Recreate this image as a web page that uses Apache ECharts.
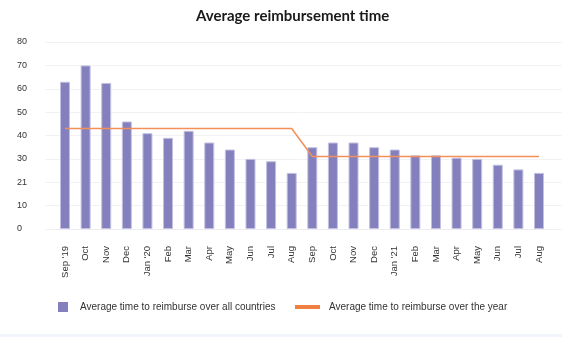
<!DOCTYPE html>
<html>
<head>
<meta charset="utf-8">
<script src="https://cdn.jsdelivr.net/npm/echarts@6/dist/echarts.min.js"></script>
<style>
  html, body { margin: 0; padding: 0; background: #ffffff; }
  #chart { width: 562px; height: 337px; }
</style>
</head>
<body>
<div id="chart"></div>
<script>
// Months from Sep 2019 to Aug 2021
const months = ["Sep '19", 'Oct', 'Nov', 'Dec', "Jan '20", 'Feb', 'Mar', 'Apr', 'May', 'Jun', 'Jul', 'Aug',
                'Sep', 'Oct', 'Nov', 'Dec', "Jan '21", 'Feb', 'Mar', 'Apr', 'May', 'Jun', 'Jul', 'Aug'];

// Average time (days) to reimburse over all countries, per month
const monthlyTime = [63, 70, 62.5, 46, 41, 39, 42, 37, 34, 30, 29, 24,
                     35, 37, 37, 35, 34, 31.5, 31.5, 30.5, 30, 27.5, 25.5, 24];

// Yearly average, repeated for each month of that year
const yearlyTime = [43, 43, 43, 43, 43, 43, 43, 43, 43, 43, 43, 43,
                    31, 31, 31, 31, 31, 31, 31, 31, 31, 31, 31, 31];

// Value axis tick labels, as printed
const yTickLabels = ['0', '10', '21', '30', '40', '50', '60', '70', '80'];

const barName = 'Average time to reimburse over all countries';
const lineName = 'Average time to reimburse over the year';

const chart = echarts.init(document.getElementById('chart'), null, { renderer: 'canvas' });

chart.setOption({
  animation: false,
  backgroundColor: '#ffffff',
  title: {
    text: 'Average reimbursement time',
    left: 191,
    top: 4,
    textStyle: { fontFamily: 'Lato', fontWeight: 'bold', fontSize: 15, color: '#1a1a1a' }
  },
  legend: [
    {
      data: [{ name: barName, icon: 'rect', itemStyle: { borderWidth: 0 } }],
      left: 53, top: 297,
      itemWidth: 10, itemHeight: 10,
      textStyle: { fontFamily: 'Liberation Sans', fontSize: 10, color: '#333', padding: [0, 0, 0, 7] }
    },
    {
      data: [{ name: lineName, icon: 'rect' }],
      left: 290, top: 297,
      itemWidth: 25, itemHeight: 4,
      textStyle: { fontFamily: 'Liberation Sans', fontSize: 10, color: '#333', padding: [0, 0, 0, 4] }
    }
  ],
  grid: [
    // full-width grid carrying the value gridlines
    { left: 45, right: 0, top: 42, bottom: 108, containLabel: false },
    // inner grid holding the bars and the yearly line
    { left: 54.7, right: 12.7, top: 42, bottom: 108, containLabel: false }
  ],
  xAxis: [
    { type: 'category', gridIndex: 0, data: months, show: false },
    {
      type: 'category', gridIndex: 1, data: months,
      axisLine: { lineStyle: { color: '#ececf2', width: 1 } },
      axisTick: { show: false },
      axisLabel: {
        rotate: 90, interval: 0, margin: 17,
        fontFamily: 'Liberation Sans', fontSize: 9.5, color: '#333'
      }
    }
  ],
  yAxis: [
    {
      type: 'value', gridIndex: 0, min: 0, max: 80, interval: 10,
      axisLine: { show: false }, axisTick: { show: false },
      splitLine: { lineStyle: { color: '#f2f2f4', width: 1 } },
      axisLabel: {
        align: 'left', margin: 28, padding: [0, 0, 7, 0],
        fontFamily: 'Liberation Sans', fontSize: 9, color: '#333',
        formatter: function (v) { return yTickLabels[Math.round(v / 10)]; }
      }
    },
    { type: 'value', gridIndex: 1, min: 0, max: 80, interval: 10, show: false }
  ],
  series: [
    {
      name: barName, type: 'bar', xAxisIndex: 1, yAxisIndex: 1,
      data: monthlyTime, barWidth: 10,
      itemStyle: { color: '#8480bd', borderColor: '#c3c0e2', borderWidth: 1 }
    },
    {
      name: lineName, type: 'line', xAxisIndex: 1, yAxisIndex: 1,
      data: yearlyTime, symbol: 'none', z: 3,
      itemStyle: { color: '#ef8040' },
      lineStyle: { color: '#f2905a', width: 1.5 }
    }
  ],
  graphic: [
    {
      type: 'rect', left: 0, top: 334,
      shape: { width: 562, height: 3 },
      style: { fill: '#f2f5fc' }
    }
  ]
});
</script>
</body>
</html>
